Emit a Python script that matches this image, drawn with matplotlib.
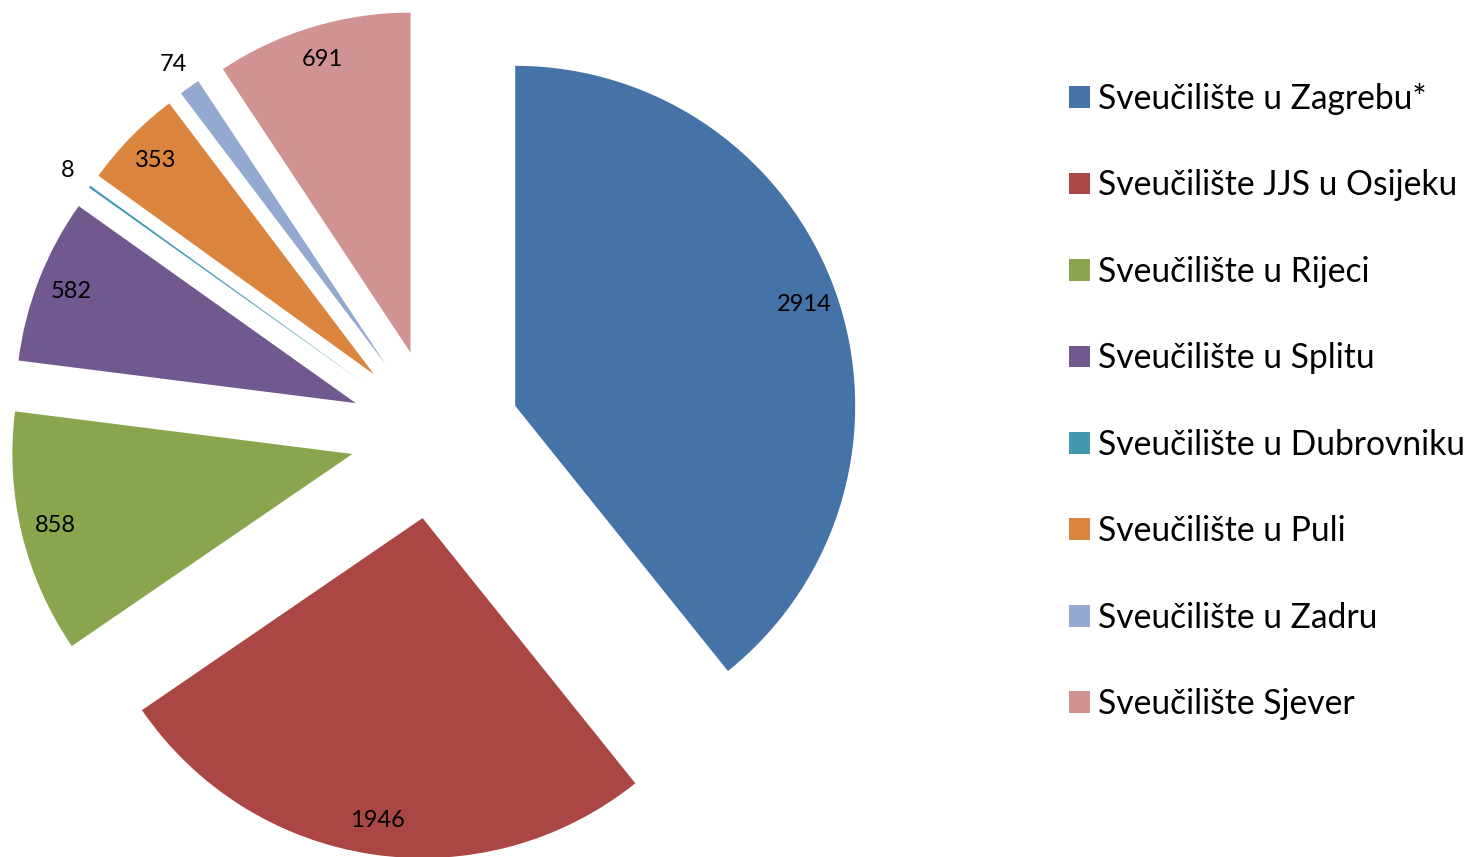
import numpy as np
import matplotlib.pyplot as plt

plt.rcParams['font.family'] = ['Lato', 'DejaVu Sans']

# data
names = ["Sveučilište u Zagrebu*", "Sveučilište JJS u Osijeku", "Sveučilište u Rijeci",
         "Sveučilište u Splitu", "Sveučilište u Dubrovniku", "Sveučilište u Puli",
         "Sveučilište u Zadru", "Sveučilište Sjever"]
values = [2914, 1946, 858, 582, 8, 353, 74, 691]
colors = ["#4572A7", "#AA4643", "#89A54E", "#71588F", "#4198AF", "#DB843D", "#93A9CF", "#D19392"]

W, H = 1475, 857
R = 340.0          # pie radius in pixels
cx, cy = 435, 434  # pie center (pixels from top-left)

fig = plt.figure(figsize=(W / 100, H / 100), dpi=100)
ax = fig.add_axes([0, 0, 1, 1])

total = sum(values)
wedges, texts, autotexts = ax.pie(values, colors=colors, startangle=90, counterclock=False,
                                  explode=[0.25] * len(values), radius=1,
                                  autopct=lambda p: "%d" % round(p * total / 100),
                                  pctdistance=0.9, textprops={'fontsize': 17, 'color': 'black'},
                                  wedgeprops={'linewidth': 0})

# pie() resets limits, so set them afterwards
ax.set_xlim(-cx / R, (W - cx) / R)
ax.set_ylim(-(H - cy) / R, cy / R)
ax.set_aspect('equal')
ax.axis('off')

# tiny slices get their labels outside
for w, t, v in zip(wedges, autotexts, values):
    if v < 100:
        ang = np.deg2rad((w.theta1 + w.theta2) / 2)
        t.set_position((w.center[0] + 1.08 * np.cos(ang), w.center[1] + 1.08 * np.sin(ang)))

leg = fig.legend(wedges, names, loc='center left', bbox_to_anchor=(1069 / W, 1 - 401.5 / H),
                 frameon=False, fontsize=24.2, handlelength=0.62, handleheight=0.62,
                 handletextpad=0.25, labelspacing=1.62, borderpad=0, borderaxespad=0)

fig.savefig("out.png", dpi=100)
